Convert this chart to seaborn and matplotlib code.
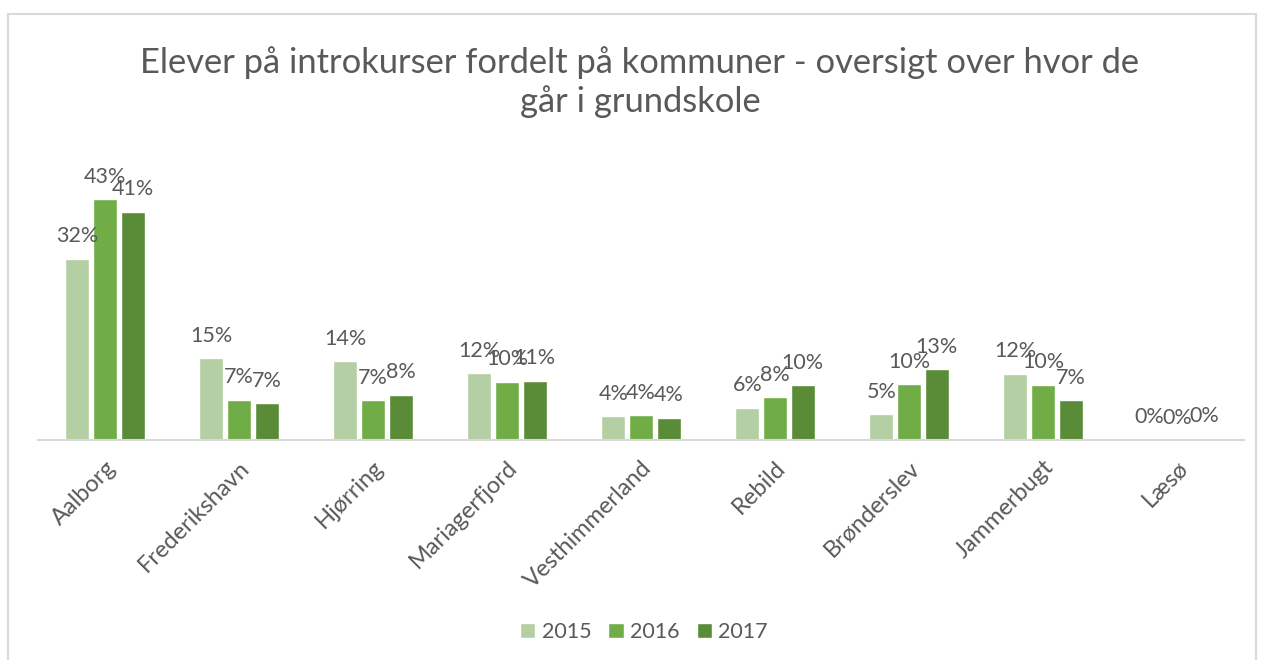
import pandas as pd
import matplotlib.pyplot as plt
import matplotlib.patches as patches
import seaborn as sns

# data
kommuner = ['Aalborg', 'Frederikshavn', 'Hjørring', 'Mariagerfjord', 'Vesthimmerland',
            'Rebild', 'Brønderslev', 'Jammerbugt', 'Læsø']
years = ['2015', '2016', '2017']
v2015 = [0.324, 0.146, 0.141, 0.119, 0.042, 0.058, 0.046, 0.118, 0.001]
v2016 = [0.430, 0.072, 0.071, 0.104, 0.044, 0.076, 0.100, 0.099, 0.000]
v2017 = [0.408, 0.066, 0.081, 0.106, 0.040, 0.098, 0.126, 0.071, 0.002]
colors = ['#B4CFA4', '#70AD47', '#5A8C37']

title = 'Elever på introkurser fordelt på kommuner - oversigt over hvor de\ngår i grundskole'

df = pd.DataFrame({
    'kommune': kommuner * 3,
    'aar': [y for y in years for _ in kommuner],
    'andel': v2015 + v2016 + v2017,
})

sns.set_theme(style='white')
plt.rcParams['font.family'] = ['Lato', 'DejaVu Sans']
text_col = '#595959'

fig = plt.figure(figsize=(12.63, 6.6), dpi=100)
# chart border
fig.patches.append(patches.Rectangle((8 / 1263, -0.05), 1248 / 1263, 1 - 14 / 660 + 0.05,
                                     transform=fig.transFigure, fill=False,
                                     edgecolor='#D9D9D9', linewidth=1.5))

ax = fig.add_axes([38 / 1263, 220 / 660, 1206 / 1263, 280 / 660])
sns.barplot(data=df, x='kommune', y='andel', hue='aar', palette=colors,
            saturation=1, width=0.62, gap=0.14, ax=ax, legend=True)

for cont in ax.containers:
    vals = cont.datavalues
    ax.bar_label(cont, labels=[f'{v:.0%}' for v in vals], padding=9,
                 fontsize=15.5, color=text_col)

ax.set_ylim(0, 0.5)
ax.set_xlim(-0.5, len(kommuner) - 0.5)
ax.set_xlabel('')
ax.set_ylabel('')
ax.set_yticks([])
for s in ['left', 'right', 'top']:
    ax.spines[s].set_visible(False)
ax.spines['bottom'].set_color('#D9D9D9')
ax.spines['bottom'].set_linewidth(1.5)
ax.tick_params(axis='x', length=0, pad=12)
plt.setp(ax.get_xticklabels(), rotation=45, ha='right', rotation_mode='anchor',
         fontsize=17, color=text_col)

leg = ax.legend(loc='center', bbox_to_anchor=(644 / 1263, 1 - 632 / 660),
                bbox_transform=fig.transFigure, ncol=3, frameon=False,
                fontsize=15.5, handlelength=0.7, handleheight=0.7,
                columnspacing=0.8, handletextpad=0.3)
for t in leg.get_texts():
    t.set_color(text_col)

fig.text(640 / 1263, 1 - 82 / 660, title, ha='center', va='center',
         fontsize=24.8, color=text_col, linespacing=1.2)

fig.savefig('out.png', dpi=100)
